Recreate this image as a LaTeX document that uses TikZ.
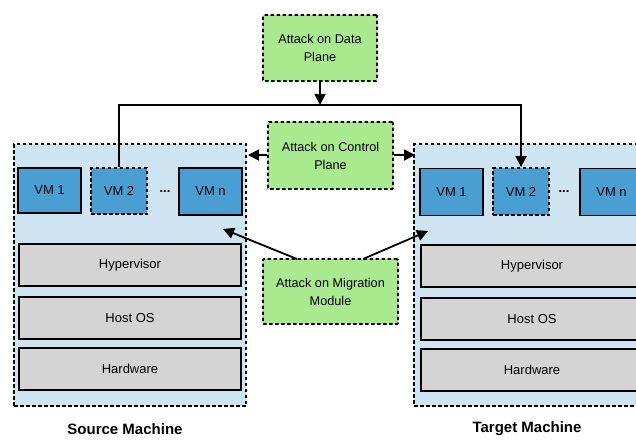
\documentclass[tikz,border=0pt]{standalone}
\usepackage{fontspec}
\setmainfont{Liberation Sans}
\usetikzlibrary{arrows.meta}
\definecolor{machinefill}{HTML}{CFE4F1}
\definecolor{vmfill}{HTML}{4A9FD2}
\definecolor{layerfill}{HTML}{D4D4D4}
\definecolor{attackfill}{HTML}{A9EA8E}
\tikzset{
  dsh/.style={dash pattern=on 3.5pt off 2.5pt, line width=1.8pt},
  machine/.style={draw=black, dsh, fill=machinefill, inner sep=0pt},
  vmbox/.style={draw=black, line width=1.6pt, fill=vmfill, inner sep=0pt, font=\fontsize{13}{15}\selectfont},
  vmdash/.style={vmbox, dsh},
  layer/.style={draw=black, line width=2.2pt, fill=layerfill, inner sep=0pt, minimum width=222pt, minimum height=42pt, font=\fontsize{13}{15}\selectfont},
  attack/.style={draw=black, dsh, fill=attackfill, inner sep=0pt, align=center, font=\fontsize{12.7}{18}\selectfont, rounded corners=1pt},
  conn/.style={line width=1.8pt, draw=black},
  arr/.style={conn, -{Triangle[length=11pt,width=11pt]}},
  lbl/.style={font=\bfseries\fontsize{15}{17}\selectfont},
  dots/.style={font=\bfseries\fontsize{13}{15}\selectfont},
}
\begin{document}
\begin{tikzpicture}[x=1pt,y=-1pt]
\clip (0,0) rectangle (636,439);
\fill[white] (0,0) rectangle (636,439);
% machines
\node[machine, minimum width=232pt, minimum height=262pt] (src) at (130,275) {};
\node[machine, minimum width=236pt, minimum height=262pt] (tgt) at (532,275) {};
% source VMs
\node[vmbox, minimum width=63pt, minimum height=45pt] (s1) at (49.5,190.5) {VM 1};
\node[vmdash, minimum width=56pt, minimum height=46pt] (s2) at (119,191) {VM 2};
\node[dots] (sd) at (165,192) {...};
\node[vmbox, minimum width=63pt, minimum height=47pt] (sn) at (210.5,191.5) {VM n};
% target VMs
\node[vmbox, minimum width=63pt, minimum height=47pt] (t1) at (451.5,192) {VM 1};
\node[vmdash, minimum width=56pt, minimum height=47pt] (t2) at (521,191.5) {VM 2};
\node[dots] (td) at (564,192) {...};
\node[vmbox, minimum width=63pt, minimum height=47pt] (tn) at (611.5,192) {VM n};
% layers
\node[layer] (sh) at (130,265) {Hypervisor};
\node[layer] (so) at (130,318) {Host OS};
\node[layer] (sw) at (130,369) {Hardware};
\node[layer] (th) at (532,266) {Hypervisor};
\node[layer] (to) at (532,319) {Host OS};
\node[layer] (tw) at (532,370) {Hardware};
% attacks
\node[attack, minimum width=114pt, minimum height=66pt] (data) at (320,48) {Attack on Data\\Plane};
\node[attack, minimum width=125pt, minimum height=67pt] (ctrl) at (330.5,155.5) {Attack on Control\\Plane};
\node[attack, minimum width=135pt, minimum height=65pt] (mig) at (330.5,291.5) {Attack on Migration\\Module};
% labels
\node[lbl] (slbl) at (125,429) {Source Machine};
\node[lbl] (tlbl) at (527,429) {Target Machine};
% connectors
\coordinate (bus) at (320,105);
\draw[arr] (s2.north) |- (bus) -| (t2.north);
\draw[arr] (data.south) -- (bus);
\coordinate (cl) at (248,155);
\coordinate (cr) at (415,155);
\draw[arr] (ctrl.west |- cl) -- (cl);
\draw[arr] (ctrl.east |- cr) -- (cr);
\coordinate (ml) at (223,229);
\coordinate (mr) at (428,231);
\coordinate (mls) at (297,259);
\coordinate (mrs) at (363,259);
\draw[arr] (mls) -- (ml);
\draw[arr] (mrs) -- (mr);
\end{tikzpicture}
\end{document}
